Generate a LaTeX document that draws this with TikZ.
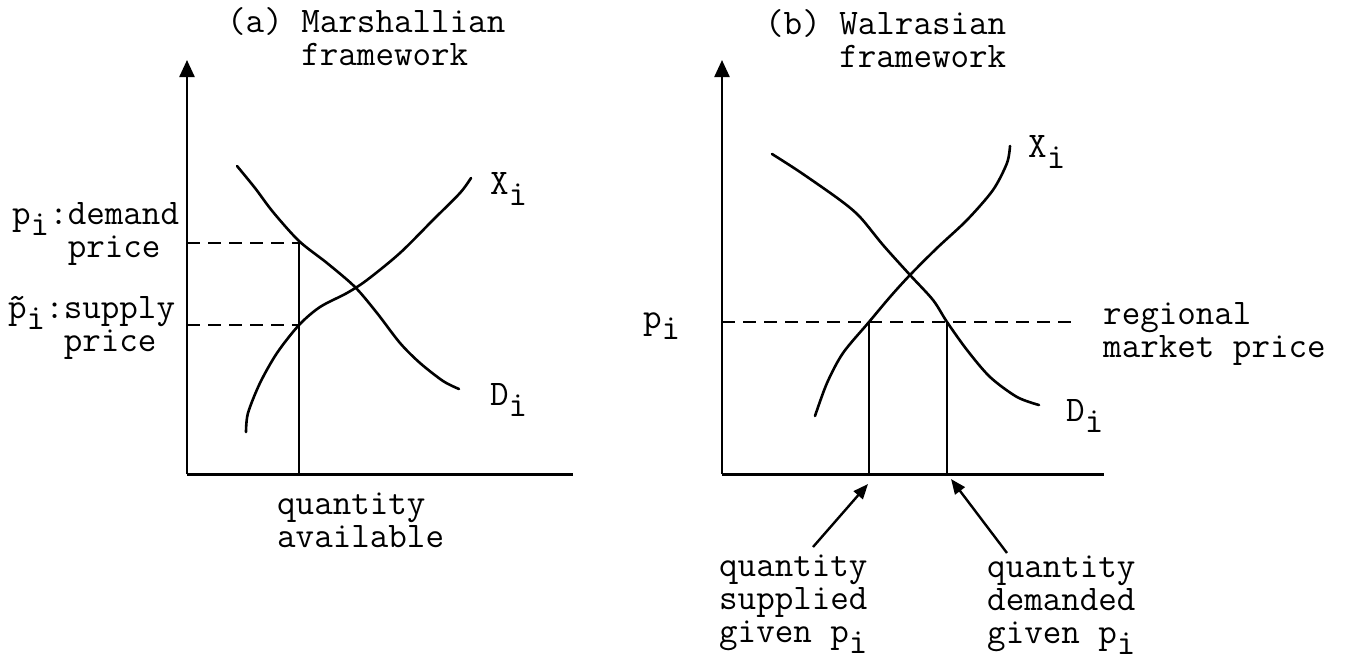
\documentclass[tikz,border=0pt]{standalone}
\usetikzlibrary{arrows.meta}
\newcommand{\sbi}{\raisebox{-11pt}{i}}

\begin{document}
\begin{tikzpicture}[x=1pt, y=-1pt,
  axis/.style={line width=3pt},
  yaxis/.style={line width=2.4pt, -{Triangle[length=17pt, width=15pt]}},
  curve/.style={line width=2.6pt, line cap=round},
  guide/.style={line width=2.8pt, dash pattern=on 13pt off 8pt},
  drop/.style={line width=2.4pt},
  lbl/.style={inner sep=0pt, anchor=base west, align=left, font=\fontsize{36}{33}\selectfont\ttfamily},
  arr/.style={line width=2.4pt, -{Triangle[length=15pt, width=12pt]}}
]
\useasboundingbox (0,0) rectangle (1352,662);

% (a) Marshallian
\coordinate (aO) at (187,474);
\coordinate (aY) at (187,60);
\coordinate (aX) at (573,474);
\coordinate (aDp) at (299,243);
\coordinate (aSp) at (299,325);
\coordinate (aQ) at (299,474);
\draw[yaxis] (aO) -- (aY);
\draw[axis] (aO) -- (aX);
\draw[guide] (aDp -| aO) -- (aDp);
\draw[guide] (aSp -| aO) -- (aSp);
\draw[drop] (aDp) -- (aQ);
\draw[curve] plot[smooth] coordinates {(237,166) (255,188) (273,212) (299,241) (327,263) (355,287) (377,313) (400,343) (420,363) (443,381) (459,389)};
\draw[curve] plot[smooth] coordinates {(246,432) (248,413) (260,383) (277,353) (299,325) (320,307) (347,293) (367,280) (400,253) (433,220) (460,193) (471,178)};

% labels: base = last line
\node[lbl] (atitle) at (227,65) {(a) Marshallian\\\hphantom{(a) }framework};
\node[lbl] (pdem) at (12,257) {p\sbi:demand\\\hphantom{pi:}price};
\node[lbl] (psup) at (8,351) {\~{p}\sbi:supply\\\hphantom{pi:}price};
\node[lbl] (aXi) at (490,194) {X\sbi};
\node[lbl] (aDi) at (490,405) {D\sbi};
\node[lbl] (qavail) at (277,547) {quantity\\available};

% (b) Walrasian
\coordinate (bO) at (722,474);
\coordinate (bY) at (722,60);
\coordinate (bX) at (1104,474);
\coordinate (bPe) at (1075,322);
\coordinate (bS) at (869,322);
\coordinate (bD) at (947,322);
\coordinate (bSq) at (869,474);
\coordinate (bDq) at (947,474);
\coordinate (bSa) at (868,484);
\coordinate (bDa) at (951,479);
\coordinate (qsT) at (813,547);
\coordinate (qdT) at (1007,553);
\draw[yaxis] (bO) -- (bY);
\draw[axis] (bO) -- (bX);
\draw[guide] (bPe -| bO) -- (bPe);
\draw[drop] (bS) -- (bSq);
\draw[drop] (bD) -- (bDq);
\draw[curve] plot[smooth] coordinates {(772,154) (800,172) (840,200) (860,217) (883,245) (910,275) (933,300) (947,322) (967,350) (990,377) (1017,397) (1039,405)};
\draw[curve] plot[smooth] coordinates {(815,416) (827,383) (843,353) (869,322) (890,297) (910,275) (937,248) (967,220) (993,190) (1007,163) (1010,146)};

\node[lbl] (btitle) at (765,67) {(b) Walrasian\\\hphantom{(b) }framework};
\node[lbl] (bpi) at (643,328) {p\sbi};
\node[lbl] (rmp) at (1103,357) {regional\\market price};
\node[lbl] (bXi) at (1028,157) {X\sbi};
\node[lbl] (bDi) at (1066,421) {D\sbi};
\node[lbl] (qsup) at (719,642) {quantity\\supplied\\given p\sbi};
\node[lbl] (qdem) at (987,643) {quantity\\demanded\\given p\sbi};
\draw[arr] (qsT) -- (bSa);
\draw[arr] (qdT) -- (bDa);
\end{tikzpicture}
\end{document}
